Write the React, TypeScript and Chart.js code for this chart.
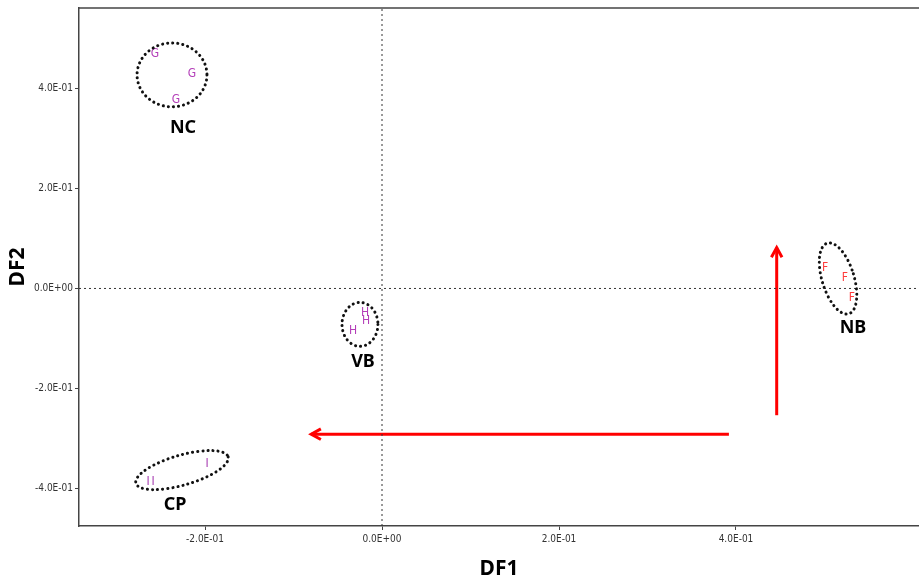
import React, { useEffect, useRef } from "react";
import { Chart, registerables } from "chart.js";

Chart.register(...registerables);

// Axis ticks and ranges
const xTicks = [-0.2, 0, 0.2, 0.4];
const yTicks = [-0.4, -0.2, 0, 0.2, 0.4];
const xRange = [-0.3424, 0.6068];
const yRange = [-0.476, 0.562];

// Observations (DF1, DF2) per group
const gLetter = "G";
const gX = [-0.2565, -0.2147, -0.2328];
const gY = [0.47, 0.43, 0.378];

const hLetter = "H";
const hX = [-0.0192, -0.018, -0.0328];
const hY = [-0.048, -0.064, -0.084];

const iLetter = "I";
const iX = [-0.2644, -0.2588, -0.1977];
const iY = [-0.388, -0.388, -0.352];

const fLetter = "F";
const fX = [0.5006, 0.523, 0.531];
const fY = [0.042, 0.022, -0.018];

// Group ellipses (centre in data units, radii in data units)
const groupNames = ["NC", "VB", "CP", "NB"];
const groupCx = [-0.2373, -0.0249, -0.226, 0.5153];
const groupCy = [0.428, -0.072, -0.364, 0.02];
const groupRx = [0.0395, 0.0203, 0.0542, 0.0181];
const groupRy = [0.064, 0.044, 0.03, 0.074];
const groupAngle = [0, 0, -16, -17];
const groupLabelX = [-0.2249, -0.0215, -0.2339, 0.5322];
const groupLabelY = [0.322, -0.148, -0.434, -0.078];

// Arrows (start -> end)
const arrowH = { x: [0.392, -0.08], y: [-0.292, -0.292] };
const arrowV = { x: [0.446, 0.446], y: [-0.254, 0.082] };

const fmt = (v: number) => {
  const s = Number(v).toExponential(1);
  const [m, e] = s.split("e");
  const sign = e[0] === "-" ? "-" : "+";
  const digits = e.replace(/[+-]/, "").padStart(2, "0");
  return `${m}E${sign}${digits}`;
};

const tickFont = { family: "'Liberation Sans Narrow', 'DejaVu Sans Condensed', 'Liberation Sans', sans-serif", size: 10 };

export default function App() {
  const ref = useRef<HTMLCanvasElement | null>(null);
  useEffect(() => {
    document.body.style.margin = "0";
    const canvas = ref.current!;
    const letters = [gLetter, hLetter, iLetter, fLetter];
    const letterColors = ["#b33db8", "#b33db8", "#a63bb0", "#ff3b3b"];

    const pts = (xs: number[], ys: number[]) => xs.map((x, i) => ({ x, y: ys[i] }));

    const overlay = {
      id: "overlay",
      afterDatasetsDraw(chart: any) {
        const ctx = chart.ctx;
        const xs = chart.scales.x;
        const ys = chart.scales.y;
        const area = chart.chartArea;
        ctx.save();
        // top frame line
        ctx.strokeStyle = "#444";
        ctx.lineWidth = 1.5;
        ctx.beginPath();
        ctx.moveTo(area.left, area.top);
        ctx.lineTo(area.right, area.top);
        ctx.stroke();

        // letters
        ctx.font = "12px 'Liberation Sans Narrow', 'DejaVu Sans Condensed', sans-serif";
        ctx.textAlign = "center";
        ctx.textBaseline = "middle";
        for (let d = 0; d < 4; d++) {
          const meta = chart.getDatasetMeta(d + 2);
          ctx.fillStyle = letterColors[d];
          meta.data.forEach((el: any) => {
            ctx.fillText(letters[d], el.x, el.y);
          });
        }

        // ellipses
        ctx.strokeStyle = "#111";
        ctx.lineWidth = 3;
        ctx.lineCap = "round";
        ctx.setLineDash([0.1, 5]);
        for (let k = 0; k < groupNames.length; k++) {
          const cx = xs.getPixelForValue(groupCx[k]);
          const cy = ys.getPixelForValue(groupCy[k]);
          const rx = Math.abs(xs.getPixelForValue(groupCx[k] + groupRx[k]) - cx);
          const ry = Math.abs(ys.getPixelForValue(groupCy[k] + groupRy[k]) - cy);
          ctx.beginPath();
          ctx.ellipse(cx, cy, rx, ry, (groupAngle[k] * Math.PI) / 180, 0, Math.PI * 2);
          ctx.stroke();
        }
        ctx.setLineDash([]);

        // group labels
        ctx.fillStyle = "#000";
        ctx.font = "bold 18px 'Noto Sans', 'Open Sans', sans-serif";
        for (let k = 0; k < groupNames.length; k++) {
          ctx.fillText(groupNames[k], xs.getPixelForValue(groupLabelX[k]), ys.getPixelForValue(groupLabelY[k]));
        }

        // arrowheads
        ctx.strokeStyle = "#ff0000";
        ctx.lineWidth = 3;
        ctx.lineCap = "butt";
        ctx.lineJoin = "miter";
        [arrowH, arrowV].forEach((a) => {
          const x1 = xs.getPixelForValue(a.x[0]);
          const y1 = ys.getPixelForValue(a.y[0]);
          const x2 = xs.getPixelForValue(a.x[1]);
          const y2 = ys.getPixelForValue(a.y[1]);
          const ang = Math.atan2(y2 - y1, x2 - x1);
          const L = 11, W = 0.5;
          ctx.beginPath();
          ctx.moveTo(x2 - L * Math.cos(ang - W), y2 - L * Math.sin(ang - W));
          ctx.lineTo(x2, y2);
          ctx.lineTo(x2 - L * Math.cos(ang + W), y2 - L * Math.sin(ang + W));
          ctx.stroke();
        });
        ctx.restore();
      },
    };

    const chart = new Chart(canvas, {
      type: "scatter",
      data: {
        datasets: [
          {
            data: [{ x: 0, y: yRange[0] }, { x: 0, y: yRange[1] }],
            showLine: true,
            borderColor: "#333",
            borderWidth: 1,
            borderDash: [2, 3],
            pointRadius: 0,
          },
          {
            data: [{ x: xRange[0], y: 0 }, { x: xRange[1], y: 0 }],
            showLine: true,
            borderColor: "#333",
            borderWidth: 1,
            borderDash: [2, 3],
            pointRadius: 0,
          },
          { data: pts(gX, gY), pointRadius: 0 },
          { data: pts(hX, hY), pointRadius: 0 },
          { data: pts(iX, iY), pointRadius: 0 },
          { data: pts(fX, fY), pointRadius: 0 },
          {
            data: pts(arrowH.x, arrowH.y),
            showLine: true,
            borderColor: "#ff0000",
            borderWidth: 3,
            pointRadius: 0,
          },
          {
            data: pts(arrowV.x, arrowV.y),
            showLine: true,
            borderColor: "#ff0000",
            borderWidth: 3,
            pointRadius: 0,
          },
        ],
      },
      options: {
        responsive: false,
        animation: false,
        layout: { padding: { left: 0, top: 7, right: 0, bottom: 0 } },
        plugins: { legend: { display: false }, tooltip: { enabled: false } },
        scales: {
          x: {
            type: "linear",
            min: xRange[0],
            max: xRange[1],
            afterBuildTicks: (s: any) => {
              s.ticks = xTicks.map((v) => ({ value: v }));
            },
            afterFit: (s: any) => {
              s.height = 57;
            },
            border: { color: "#444", width: 1.5 },
            grid: { drawOnChartArea: false, drawTicks: true, tickLength: 4, color: "#444" },
            ticks: { callback: (v: any) => fmt(v), font: tickFont, color: "#333", padding: 3, maxRotation: 0 },
            title: {
              display: true,
              text: "DF1",
              font: { family: "'Noto Sans', 'Open Sans', sans-serif", size: 21, weight: "bold" },
              color: "#000",
              padding: { top: 0, bottom: 1 },
            },
          },
          y: {
            type: "linear",
            min: yRange[0],
            max: yRange[1],
            afterBuildTicks: (s: any) => {
              s.ticks = yTicks.map((v) => ({ value: v }));
            },
            afterFit: (s: any) => {
              s.width = 79;
            },
            border: { color: "#444", width: 1.5 },
            grid: { drawOnChartArea: false, drawTicks: true, tickLength: 4, color: "#444" },
            ticks: { callback: (v: any) => fmt(v), font: tickFont, color: "#333", padding: 2 },
            title: {
              display: true,
              text: "DF2",
              font: { family: "'Noto Sans', 'Open Sans', sans-serif", size: 21, weight: "bold" },
              color: "#000",
              padding: { top: 5, bottom: 0 },
            },
          },
        },
      },
      plugins: [overlay],
    } as any);
    return () => chart.destroy();
  }, []);
  return (
    <div style={{ width: 919, height: 583, background: "#fff" }}>
      <canvas ref={ref} width={919} height={583} style={{ display: "block" }} />
    </div>
  );
}
